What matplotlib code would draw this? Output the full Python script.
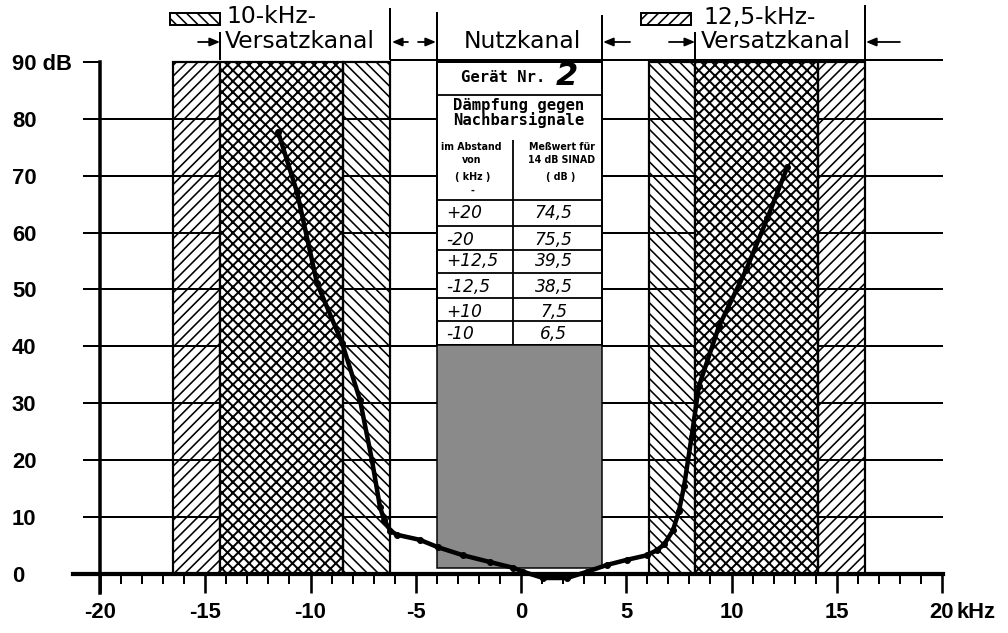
import matplotlib
matplotlib.use("Agg")
import matplotlib.pyplot as plt
from matplotlib.patches import Rectangle
import numpy as np

# ---------------- data ----------------
x_ticks = [-20, -15, -10, -5, 0, 5, 10, 15, 20]
x_tick_labels = ["-20", "-15", "-10", "-5", "0", "5", "10", "15", "20"]
y_ticks = [0, 10, 20, 30, 40, 50, 60, 70, 80, 90]
y_tick_labels = ["0", "10", "20", "30", "40", "50", "60", "70", "80", "90 dB"]
grid_db = [10, 20, 30, 40, 50, 60, 70, 80]

curve_khz = [-11.54, -10.64, -9.69, -8.50, -7.65, -7.08, -6.70, -6.50, -6.20, -5.90,
             -4.80, -3.94, -2.76, -1.47, -0.38, 0.10, 1.05, 2.19, 3.14, 4.09,
             5.04, 5.99, 6.46, 6.80, 7.22, 7.50, 7.75, 8.10, 8.45, 9.40,
             10.70, 11.70, 12.65]
curve_db = [77.7, 67.1, 51.1, 40.6, 30.6, 20.0, 11.8, 9.5, 7.6, 6.9,
            6.0, 4.7, 3.3, 2.1, 1.1, 0.4, -0.7, -0.7, 0.4, 1.6,
            2.5, 3.3, 4.2, 5.2, 7.7, 11.0, 15.5, 24.0, 33.0, 43.5,
            53.5, 62.5, 71.5]

band_left = [-16.53, -14.30, -8.46, 6.08, 8.27, 14.11]
band_right = [-14.30, -8.46, -6.20, 8.27, 14.11, 16.34]
band_top = 90

table_offsets = ["+20", "-20", "+12,5", "-12,5", "+10", "-10"]
table_values = ["74,5", "75,5", "39,5", "38,5", "7,5", "6,5"]
device_no = "2"

# ---------------- layout helpers ----------------
DPI = 65
W, H = 1008, 633
X0PX, PXK = 521.0, 21.05   # pixel of 0 kHz, pixels per kHz
Y0PX, PXD = 574.0, 5.69    # pixel of 0 dB, pixels per dB


def pt(px):
    return px * 72.0 / DPI


plt.rcParams["font.family"] = ["Liberation Sans", "DejaVu Sans"]

fig = plt.figure(figsize=(W / DPI, H / DPI), dpi=DPI)
ax = fig.add_axes([0, 0, 1, 1])
ax.set_xlim(-X0PX / PXK, (W - X0PX) / PXK)
ax.set_ylim(-(H - Y0PX) / PXD, Y0PX / PXD)
ax.set_facecolor("white")

# spines as axes
for s in ("top", "right"):
    ax.spines[s].set_visible(False)
ax.spines["left"].set_position(("data", -20))
ax.spines["left"].set_bounds(-3.4, 90)
ax.spines["left"].set_linewidth(pt(3.5))
ax.spines["bottom"].set_position(("data", 0))
ax.spines["bottom"].set_bounds(-21.3, 20.05)
ax.spines["bottom"].set_linewidth(pt(4.2))
ax.spines["left"].set_zorder(6)
ax.spines["bottom"].set_zorder(6)

ax.set_xticks(x_ticks, labels=x_tick_labels)
ax.set_xticks(np.arange(-20, 21, 1), minor=True)
ax.tick_params(axis="x", which="major", direction="out", length=pt(19), width=pt(2.6),
               pad=pt(9), labelsize=pt(22))
ax.tick_params(axis="x", which="minor", direction="out", length=pt(10), width=pt(2))
ax.set_yticks(y_ticks, labels=y_tick_labels)
ax.tick_params(axis="y", direction="out", length=pt(17), width=pt(2),
               pad=pt(100 - 17 - 12), labelsize=pt(22))
for lab in ax.get_yticklabels():
    lab.set_horizontalalignment("left")
    lab.set_fontweight("bold")
for lab in ax.get_xticklabels():
    lab.set_fontweight("bold")
ax.text((957 - X0PX) / PXK, -(19 + 9) / PXD, "kHz", ha="left", va="top",
        fontsize=pt(22), fontweight="bold")

# grid lines
ax.hlines(grid_db, -20, 20.05, colors="black", lw=pt(2), zorder=0.5)

# channel bands
hatches = ["//", "xx", "\\\\", "\\\\", "xx", "//"]
for l, r, h in zip(band_left, band_right, hatches):
    hlw = pt(2.0) if "x" in h else pt(1.6)
    with plt.rc_context({"hatch.linewidth": hlw}):
        bars = ax.bar(l, band_top, width=r - l, bottom=0, align="edge",
                      facecolor="white" if "x" in h else "none", edgecolor="black",
                      hatch=h, lw=pt(2.2), zorder=1)
    for p in bars:
        if hasattr(p, "set_hatch_linewidth"):
            p.set_hatch_linewidth(hlw)

# useful channel box: table + grey area
TL, TR = -3.99, 3.85
ax.add_patch(Rectangle((TL, 40.2), TR - TL, 90 - 40.2, facecolor="white",
                       edgecolor="black", lw=pt(2), zorder=2))
ax.add_patch(Rectangle((TL, 1.05), TR - TL, 40.2 - 1.05, facecolor="#8a8a8a",
                       edgecolor="black", lw=pt(1.5), zorder=2))
ax.hlines([84.2, 65.7, 61.2, 56.9, 52.9, 48.5, 44.5], TL, TR, colors="black",
          lw=pt(1.8), zorder=3)
ax.vlines(-0.38, 40.2, 76.3, colors="black", lw=pt(1.8), zorder=3)

mono = dict(family="DejaVu Sans Mono", fontweight="bold", fontsize=pt(15.5), zorder=4)
ax.text(-0.86, 87.2, "Gerät Nr.", ha="center", va="center", **mono)
ax.text(2.2, 87.4, device_no, ha="center", va="center", family="DejaVu Sans",
        style="italic", fontweight="bold", fontsize=pt(32), zorder=4)
ax.text(-0.1, 82.4, "Dämpfung gegen", ha="center", va="center", **mono)
ax.text(-0.1, 79.8, "Nachbarsignale", ha="center", va="center", **mono)

small = dict(family="DejaVu Sans", fontweight="bold", fontsize=pt(9.5), zorder=4,
             ha="center", va="center")
ax.text(-2.35, 75.0, "im Abstand", **small)
ax.text(-2.35, 72.8, "von", **small)
ax.text(-2.3, 69.8, "( kHz )", **small)
ax.text(-2.3, 67.3, "-", **small)
ax.text(1.95, 75.0, "Meßwert für", **small)
ax.text(1.95, 72.8, "14 dB SINAD", **small)
ax.text(1.9, 69.8, "( dB )", **small)

row_y = [63.4, 58.7, 55.0, 50.4, 46.0, 42.2]
hand = dict(family="DejaVu Sans", style="italic", fontsize=pt(17), zorder=4, va="center")
for yy, off, val in zip(row_y, table_offsets, table_values):
    ax.text(-3.55, yy, off, ha="left", **hand)
    ax.text(1.55, yy, val, ha="center", **hand)

# measured curve
ax.plot(curve_khz, curve_db, color="black", lw=pt(4.5), marker="o", ms=pt(6),
        zorder=5, solid_joinstyle="round", solid_capstyle="round")

# ---------------- header ----------------
ax.hlines(90.35, -6.2, 20.05, colors="black", lw=pt(2), zorder=3)
for xv, y1 in [(-14.3, 95.3), (-6.2, 99.5), (-3.99, 98.8), (3.85, 98.2),
               (8.27, 95.3), (16.34, 100.0)]:
    ax.vlines(xv, 90.35, y1, colors="black", lw=pt(2), zorder=3)

arrow_y = 93.5
for head, tail in [(-14.3, -15.34), (-6.13, -5.37), (-4.04, -4.89),
                   (3.90, 5.18), (8.27, 7.03), (16.39, 18.0)]:
    ax.annotate("", xy=(head, arrow_y), xytext=(tail, arrow_y),
                arrowprops=dict(arrowstyle="-|>,head_length=0.6,head_width=0.25",
                                lw=pt(1.8), color="black", shrinkA=0, shrinkB=0,
                                mutation_scale=pt(14)))

hdr = dict(family="DejaVu Sans", fontsize=pt(23.5), va="center")
ax.text(-13.97, 97.9, "10-kHz-", ha="left", **hdr)
ax.text(-14.06, 93.6, "Versatzkanal", ha="left", **hdr)
ax.text(0.05, 93.5, "Nutzkanal", ha="center", **hdr)
ax.text(8.69, 97.8, "12,5-kHz-", ha="left", **hdr)
ax.text(8.55, 93.6, "Versatzkanal", ha="left", **hdr)

with plt.rc_context({"hatch.linewidth": pt(1.6)}):
    lb1 = Rectangle((-16.67, 96.5), 2.37, 2.1, facecolor="white", edgecolor="black",
                    hatch="\\\\", lw=pt(2))
    lb2 = Rectangle((5.70, 96.5), 2.38, 2.1, facecolor="white", edgecolor="black",
                    hatch="//", lw=pt(2))
for p in (lb1, lb2):
    ax.add_patch(p)

fig.savefig("out.png", dpi=DPI)
